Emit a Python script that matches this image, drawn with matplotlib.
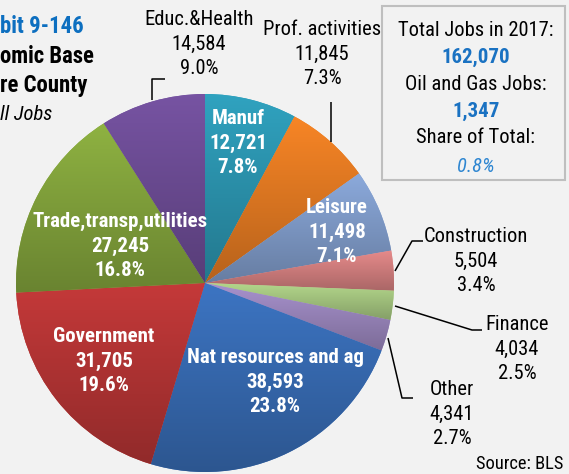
import numpy as np
import matplotlib
matplotlib.use("Agg")
import matplotlib.pyplot as plt
import matplotlib.colors as mcolors
from matplotlib import font_manager
from matplotlib.patches import Rectangle

# Jobs by sector, 2017 (clockwise from 12 o'clock)
sectors = ["Manuf", "Prof. activities", "Leisure", "Construction", "Finance",
           "Other", "Nat resources and ag", "Government",
           "Trade,transp,utilities", "Educ.&Health"]
jobs = [12721, 11845, 11498, 5504, 4034, 4341, 38593, 31705, 27245, 14584]
sector_colors = ["#2e9cb8", "#ee8024", "#86a3d3", "#dd8585", "#adcf86",
                 "#a18cc5", "#3a70bb", "#bd3737", "#89ab3f", "#72509c"]

oil_gas_jobs = 1347
title_lines = ["bit 9-146", "omic Base", "re County", "ll Jobs"]
source_note = "Source: BLS"

# label anchors (x, first baseline) in pixel units, and whether inside the slice
label_pos = [(238, 124), (322, 35), (337, 213), (476, 242), (517, 330),
             (452, 395), (275, 363), (104, 342), (120, 227), (199, 25)]
label_inside = [True, False, True, False, False, False, True, True, True, False]

# leader lines for the outside labels
leaders = [
    [(152, 100), (152, 79), (165, 79)],
    [(331, 102), (331, 142)],
    [(395, 271), (412, 241), (423, 241)],
    [(395, 306), (472, 330), (482, 330)],
    [(388, 338), (402, 398), (413, 398)],
]

BG = "#f2f2f2"
BLUE = "#1a72c2"

# narrow sans for the labels, whichever is around
installed = {f.name for f in font_manager.fontManager.ttflist}
FONT, FS = "Liberation Sans", 12.8
for name, size in [("Liberation Sans Narrow", 15.4), ("Roboto Condensed", 14.8),
                   ("PT Sans Narrow", 15.8), ("Fira Sans Condensed", 14.0)]:
    if name in installed:
        FONT, FS = name, size
        break
FS_BOLD = FS * 1.015
FS_TITLE = FS * 1.11


def stacked(ax, x, y, lines, color="black", weight="normal", size=FS,
            step=24.5, ha="center"):
    for i, s in enumerate(lines):
        ax.text(x, y + i * step, s, ha=ha, va="baseline", color=color,
                fontsize=size, fontweight=weight, family=FONT, zorder=5)


def draw_chart():
    fig = plt.figure(figsize=(5.69, 4.74), dpi=100, facecolor=BG)
    ax = fig.add_axes([0, 0, 1, 1])
    ax.set_facecolor(BG)

    # y axis runs downward, so startangle -90 is 12 o'clock and ccw is clockwise on screen
    wedges, _ = ax.pie(jobs, colors=sector_colors, startangle=-90,
                       counterclock=True, center=(205, 283), radius=189,
                       wedgeprops=dict(linewidth=0))

    # vertical shading inside each slice, lighter on top
    shade = np.linspace(1.04, 0.77, 64)[:, None, None]
    for w, c in zip(wedges, sector_colors):
        x0, y0, x1, y1 = w.get_path().get_extents().extents
        rgb = np.array(mcolors.to_rgb(c))
        img = np.clip(rgb[None, None, :] * shade, 0, 1)
        im = ax.imshow(img, extent=(x0, x1, y1, y0), origin="upper",
                       aspect="auto", interpolation="bilinear", zorder=2)
        im.set_clip_path(w)

    total = sum(jobs)
    for name, val, (x, y), inside in zip(sectors, jobs, label_pos, label_inside):
        lines = [name, f"{val:,}", f"{val / total * 100:.1f}%"]
        if inside:
            stacked(ax, x, y, lines, color="white", weight="bold", size=FS_BOLD)
        else:
            stacked(ax, x, y, lines)

    for pts in leaders:
        xs, ys = zip(*pts)
        ax.plot(xs, ys, color="black", lw=1.1, zorder=4, solid_capstyle="butt")

    # summary box
    ax.add_patch(Rectangle((382, 6), 183, 174, fill=False, edgecolor="#bfbfbf",
                           lw=1.5, zorder=3))
    bx = 476
    ax.text(bx, 36, "Total Jobs in 2017:", ha="center", va="baseline",
            fontsize=FS, family=FONT)
    ax.text(bx, 63, f"{total:,}", ha="center", va="baseline", color=BLUE,
            fontsize=FS_BOLD, fontweight="bold", family=FONT)
    ax.text(bx, 90, "Oil and Gas Jobs:", ha="center", va="baseline",
            fontsize=FS, family=FONT)
    ax.text(bx, 117, f"{oil_gas_jobs:,}", ha="center", va="baseline",
            color=BLUE, fontsize=FS_BOLD, fontweight="bold", family=FONT)
    ax.text(bx, 143, "Share of Total:", ha="center", va="baseline",
            fontsize=FS, family=FONT)
    ax.text(bx, 172, f"{oil_gas_jobs / total * 100:.1f}%", ha="center",
            va="baseline", color="#2e86d1", fontsize=FS, fontstyle="italic",
            family=FONT)

    # title block (runs off the left edge)
    ax.text(0, 33, title_lines[0], ha="left", va="baseline", color="#0d6fc0",
            fontsize=FS_TITLE, fontweight="bold", family=FONT)
    ax.text(0, 63, title_lines[1], ha="left", va="baseline",
            fontsize=FS_TITLE, fontweight="bold", family=FONT)
    ax.text(0, 92, title_lines[2], ha="left", va="baseline",
            fontsize=FS_TITLE, fontweight="bold", family=FONT)
    ax.text(0, 120, title_lines[3], ha="left", va="baseline",
            fontsize=FS, fontstyle="italic", family=FONT)

    ax.text(563, 469, source_note, ha="right", va="baseline",
            fontsize=FS * 0.9, family=FONT)

    ax.set_xlim(0, 569)
    ax.set_ylim(474, 0)
    ax.set_aspect("auto")
    ax.axis("off")

    fig.savefig("out.png", dpi=100, facecolor=BG)


if __name__ == "__main__":
    draw_chart()
